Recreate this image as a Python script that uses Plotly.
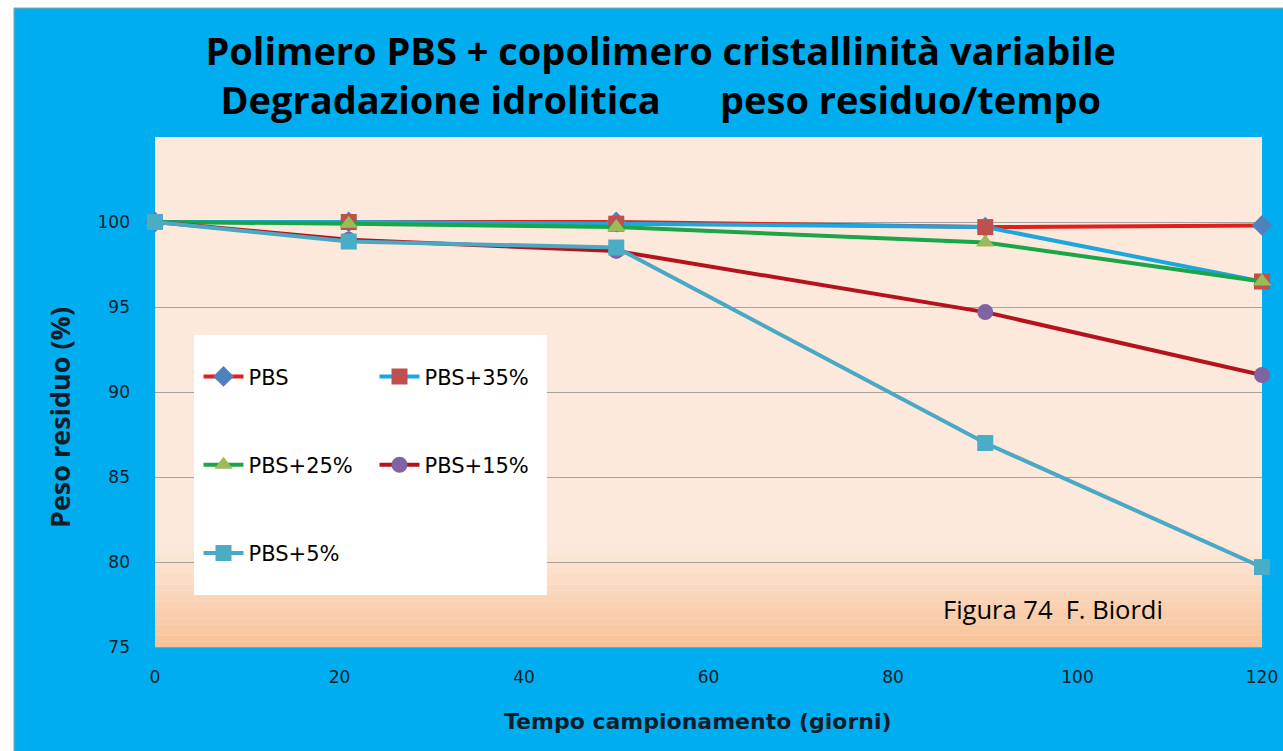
import plotly.graph_objects as go

giorni = [0, 21, 50, 90, 120]

pbs = [100, 100, 100, 99.7, 99.8]
pbs_35 = [100, 100, 99.9, 99.7, 96.5]
pbs_25 = [100, 99.9, 99.7, 98.8, 96.5]
pbs_15 = [100, 98.95, 98.3, 94.7, 91.0]
pbs_5 = [100, 98.85, 98.5, 87.0, 79.7]

serie = [
    ("PBS", pbs, "#e0201b", "#4f81bd", "diamond", "legend"),
    ("PBS+35%", pbs_35, "#1aa7e0", "#c0504d", "square", "legend2"),
    ("PBS+25%", pbs_25, "#1aa548", "#9bbb59", "triangle-up", "legend"),
    ("PBS+15%", pbs_15, "#b5121b", "#8064a2", "circle", "legend2"),
    ("PBS+5%", pbs_5, "#4aa8c4", "#4bacc6", "square", "legend"),
]

BLU = "#00aeef"
TESTO = "#0f1d2b"

fig = go.Figure()
for nome, valori, linea, marker, simbolo, leg in serie:
    fig.add_trace(go.Scatter(
        x=giorni, y=valori, name=nome, mode="lines+markers",
        line=dict(color=linea, width=4),
        marker=dict(color=marker, symbol=simbolo, size=16),
        legend=leg, legendgroup=nome,
        cliponaxis=False,
    ))

# sfondo blu con bordo bianco in alto e a sinistra
shapes = [dict(type="rect", xref="paper", yref="paper",
               x0=-0.1274, x1=1.03, y0=-0.21, y1=1.253,
               fillcolor=BLU, line=dict(width=1, color="#9aa7ad"),
               layer="below"),
          dict(type="rect", xref="paper", yref="paper",
               x0=0, x1=1, y0=0, y1=1,
               fillcolor="#fce9dc", line=dict(width=0), layer="below")]

# sfumatura arancio sul fondo dell'area del grafico
passi = 18
c0 = (252, 233, 220)
c1 = (248, 193, 150)
for i in range(passi):
    t = (i + 0.5) / passi
    r = round(c1[0] + (c0[0] - c1[0]) * t)
    g = round(c1[1] + (c0[1] - c1[1]) * t)
    b = round(c1[2] + (c0[2] - c1[2]) * t)
    shapes.append(dict(type="rect", xref="paper", yref="paper",
                       x0=0, x1=1, y0=0.2 * i / passi, y1=0.2 * (i + 1) / passi,
                       fillcolor=f"rgb({r},{g},{b})", line=dict(width=0),
                       layer="below"))

# riquadro bianco della legenda
shapes.append(dict(type="rect", xref="paper", yref="paper",
                   x0=0.0352, x1=0.354, y0=0.102, y1=0.612,
                   fillcolor="white", line=dict(width=0), layer="above"))

fig.update_layout(
    width=1283, height=751,
    margin=dict(l=155, r=21, t=137, b=104),
    paper_bgcolor="white",
    plot_bgcolor="rgba(0,0,0,0)",
    shapes=shapes,
    title=dict(
        text="Polimero PBS + copolimero cristallinità variabile<br>"
             "Degradazione idrolitica      peso residuo/tempo",
        x=0.515, xanchor="center", y=0.9135, yanchor="middle",
        font=dict(family="Open Sans", size=38, color="black", weight="bold"),
    ),
    xaxis=dict(
        range=[0, 120], tickvals=[0, 20, 40, 60, 80, 100, 120],
        showgrid=False, zeroline=False, automargin=False,
        showline=True, linecolor="#9a9a9a", linewidth=1,
        tickfont=dict(family="DejaVu Sans", size=17, color=TESTO),
        ticks="", ticklabelstandoff=15,
    ),
    yaxis=dict(
        range=[75, 105], tickvals=[75, 80, 85, 90, 95, 100],
        showgrid=True, gridcolor="#a9a29c", gridwidth=1, zeroline=False,
        automargin=False,
        tickfont=dict(family="DejaVu Sans", size=17, color=TESTO),
        ticks="", ticklabelstandoff=24,
    ),
    legend=dict(
        x=0.0393, y=0.57, xanchor="left", yanchor="top",
        bgcolor="rgba(0,0,0,0)", tracegroupgap=58,
        font=dict(family="DejaVu Sans", size=21, color="black"),
        itemwidth=40,
    ),
    legend2=dict(
        x=0.1983, y=0.57, xanchor="left", yanchor="top",
        bgcolor="rgba(0,0,0,0)", tracegroupgap=58,
        font=dict(family="DejaVu Sans", size=21, color="black"),
        itemwidth=40,
    ),
    annotations=[
        dict(text="Tempo campionamento (giorni)", xref="paper", yref="paper",
             x=0.4905, y=-0.147, xanchor="center", yanchor="middle",
             showarrow=False,
             font=dict(family="DejaVu Sans", size=22, color=TESTO,
                       weight="bold")),
        dict(text="Peso residuo (%)", xref="paper", yref="paper",
             x=-0.0867, y=0.449, xanchor="center", yanchor="middle",
             textangle=-90, showarrow=False,
             font=dict(family="Open Sans", size=27, color=TESTO,
                       weight="bold")),
        dict(text="Figura 74  F. Biordi", xref="paper", yref="paper",
             x=0.8115, y=0.0745, xanchor="center", yanchor="middle",
             showarrow=False,
             font=dict(family="Open Sans", size=25.5, color="black")),
    ],
)

fig.write_html("out.html", config={"displayModeBar": False},
               post_script="document.body.style.margin='0px';")
